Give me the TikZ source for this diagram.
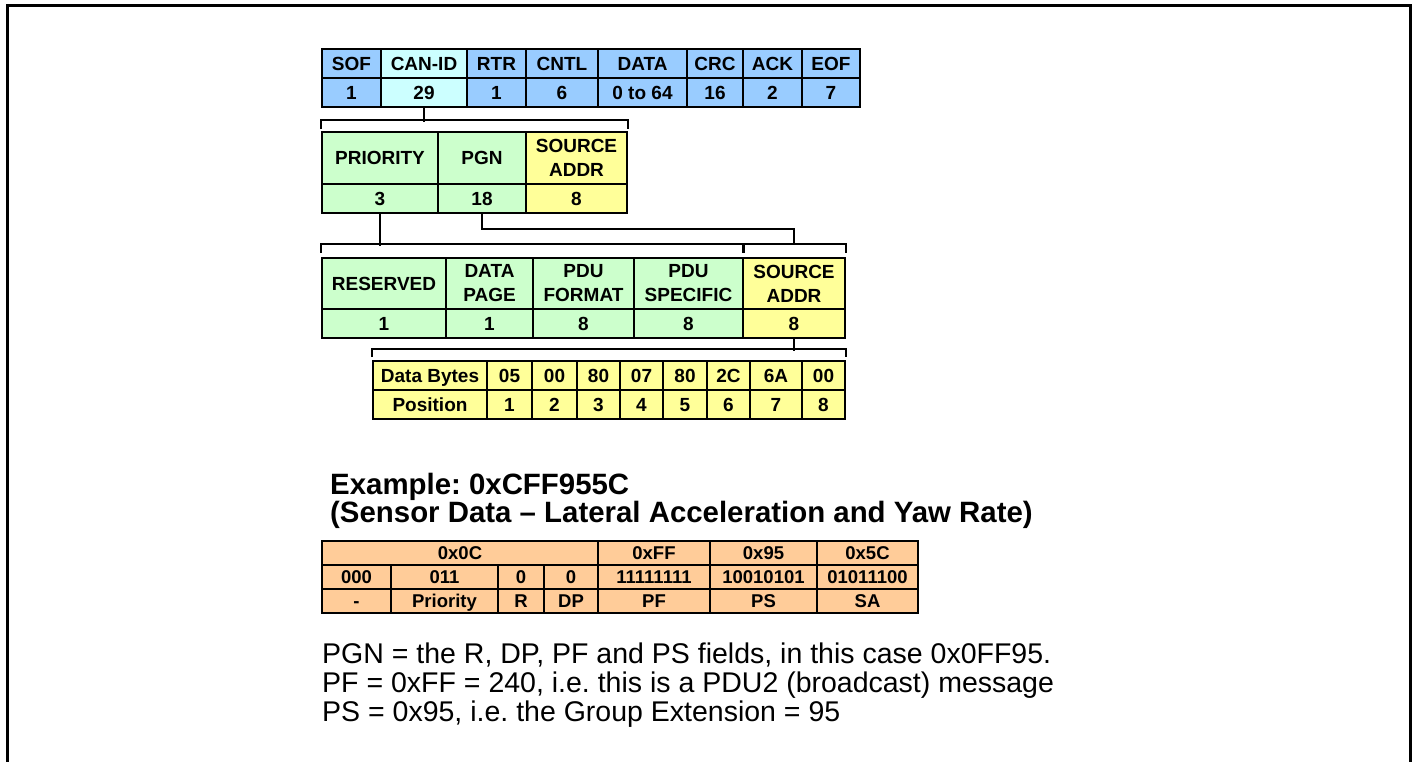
\documentclass[tikz,border=0pt]{standalone}
\usepackage{fontspec}
\setmainfont{Liberation Sans}
\frenchspacing

\definecolor{canblue}{RGB}{153,204,255}
\definecolor{cancyan}{RGB}{204,255,255}
\definecolor{pgngreen}{RGB}{204,255,204}
\definecolor{addryellow}{RGB}{255,255,153}
\definecolor{hexorange}{RGB}{255,204,153}

\begin{document}
\begin{tikzpicture}[x=1pt, y=-1pt,
    cell/.style={draw, line width=2pt, inner sep=0pt,
                 font=\fontsize{19}{24}\selectfont\bfseries,
                 text height=13.6pt, text depth=0pt},
    tall/.style={align=center, text height=, text depth=},
    hexcell/.style={cell, fill=hexorange, minimum height=24,
                    font=\fontsize{18.5}{22}\selectfont\bfseries, text height=13.3pt},
    link/.style={line width=2pt},
    heading/.style={font=\fontsize{29.4}{32}\selectfont\bfseries, anchor=base west, inner sep=0pt},
    note/.style={font=\fontsize{28.5}{31}\selectfont, anchor=base west, inner sep=0pt}
  ]
  \useasboundingbox (0,0) rectangle (1413,761);
  % outer frame, open at the bottom
  \draw[line width=3pt] (7,780) -- (7,5.5) -- (1410.5,5.5) -- (1410.5,780);

  % CAN frame fields and their lengths
  \foreach \xl/\xr/\name/\head/\len/\col in {
      322/381/sof/SOF/1/canblue, 381/467/canid/CAN-ID/29/cancyan,
      467/526/rtr/RTR/1/canblue, 526/598/cntl/CNTL/6/canblue,
      598/687/data/DATA/0 to 64/canblue, 687/743/crc/CRC/16/canblue,
      743/802/ack/ACK/2/canblue, 802/860/eof/EOF/7/canblue} {
    \node[cell, fill=\col, minimum width={\xr-\xl}, minimum height=29] (\name) at ({(\xl+\xr)/2},63.5) {\head};
    \node[cell, fill=\col, minimum width={\xr-\xl}, minimum height=29] (\name-len) at ({(\xl+\xr)/2},92.5) {\len};
  }

  % 29 bit identifier
  \foreach \xl/\xr/\name/\head/\len/\col in {
      322/438/prio/PRIORITY/3/pgngreen, 438/526/pgn/PGN/18/pgngreen,
      526/627/sa/{SOURCE\\ADDR}/8/addryellow} {
    \node[cell, tall, fill=\col, minimum width={\xr-\xl}, minimum height=52] (\name) at ({(\xl+\xr)/2},158) {\head};
    \node[cell, fill=\col, minimum width={\xr-\xl}, minimum height=29] (\name-len) at ({(\xl+\xr)/2},198.5) {\len};
  }

  % PGN split up
  \foreach \xl/\xr/\name/\head/\len/\col in {
      322/446/res/RESERVED/1/pgngreen, 446/533/dp/{DATA\\PAGE}/1/pgngreen,
      533/634/pf/{PDU\\FORMAT}/8/pgngreen, 634/743/ps/{PDU\\SPECIFIC}/8/pgngreen,
      743/845/src/{SOURCE\\ADDR}/8/addryellow} {
    \node[cell, tall, fill=\col, minimum width={\xr-\xl}, minimum height=51] (\name) at ({(\xl+\xr)/2},283.5) {\head};
    \node[cell, fill=\col, minimum width={\xr-\xl}, minimum height=29] (\name-len) at ({(\xl+\xr)/2},323.5) {\len};
  }

  % payload bytes
  \foreach \xl/\xr/\name/\byte/\pos in {
      373/487/db/Data Bytes/Position, 487/532/b1/05/1, 532/577/b2/00/2,
      577/620/b3/80/3, 620/663/b4/07/4, 663/707/b5/80/5, 707/750/b6/2C/6,
      750/802/b7/6A/7, 802/845/b8/00/8} {
    \node[cell, fill=addryellow, minimum width={\xr-\xl}, minimum height=29] (\name) at ({(\xl+\xr)/2},375.5) {\byte};
    \node[cell, fill=addryellow, minimum width={\xr-\xl}, minimum height=29] (\name-pos) at ({(\xl+\xr)/2},404.5) {\pos};
  }

  % brackets and stems
  \draw[link] (canid-len.south) -- ++(0,14);
  \draw[link] ([yshift=2pt]prio.north west) -- ++(0,-9) -| ([yshift=2pt]sa.north east);
  \draw[link] (prio-len.south) -- ++(0,32);
  \draw[link] ([yshift=4pt]res.north west) -- ++(0,-9) -| ([xshift=-1.5pt,yshift=4pt]ps.north east);
  \draw[link] (pgn-len.south) -- ++(0,15) -| ([yshift=13pt]src.north);
  \draw[link] ([xshift=1.5pt,yshift=4pt]src.north west) -- ++(0,-9) -| ([yshift=4pt]src.north east);
  \draw[link] (src-len.south) -- ++(0,12);
  \draw[link] ([yshift=3pt]db.north west) -- ++(0,-8) -| ([yshift=3pt]b8.north east);

  % worked example
  \node[heading] (ex1) at (330,494) {Example: 0xCFF955C};
  \node[heading] (ex2) at (330,522) {(Sensor Data -- Lateral Acceleration and Yaw Rate)};

  \foreach \xl/\xr/\name/\hex in {
      322/598/h1/0x0C, 598/710/h2/0xFF, 710/817/h3/0x95, 817/918/h4/0x5C}
    \node[hexcell, minimum width={\xr-\xl}] (\name) at ({(\xl+\xr)/2},553) {\hex};
  \foreach \xl/\xr/\name/\bits/\field in {
      322/391/f1/000/-, 391/498/f2/011/Priority, 498/544/f3/0/R, 544/598/f4/0/DP,
      598/710/f5/11111111/PF, 710/817/f6/10010101/PS, 817/918/f7/01011100/SA} {
    \node[hexcell, minimum width={\xr-\xl}] (\name) at ({(\xl+\xr)/2},577) {\bits};
    \node[hexcell, minimum width={\xr-\xl}] (\name-id) at ({(\xl+\xr)/2},601) {\field};
  }

  \node[note] (n1) at (322,663) {PGN = the R, DP, PF and PS fields, in this case 0x0FF95.};
  \node[note] (n2) at (322,692) {PF = 0xFF = 240, i.e. this is a PDU2 (broadcast) message};
  \node[note] (n3) at (322,721) {PS = 0x95, i.e. the Group Extension = 95};
\end{tikzpicture}
\end{document}
